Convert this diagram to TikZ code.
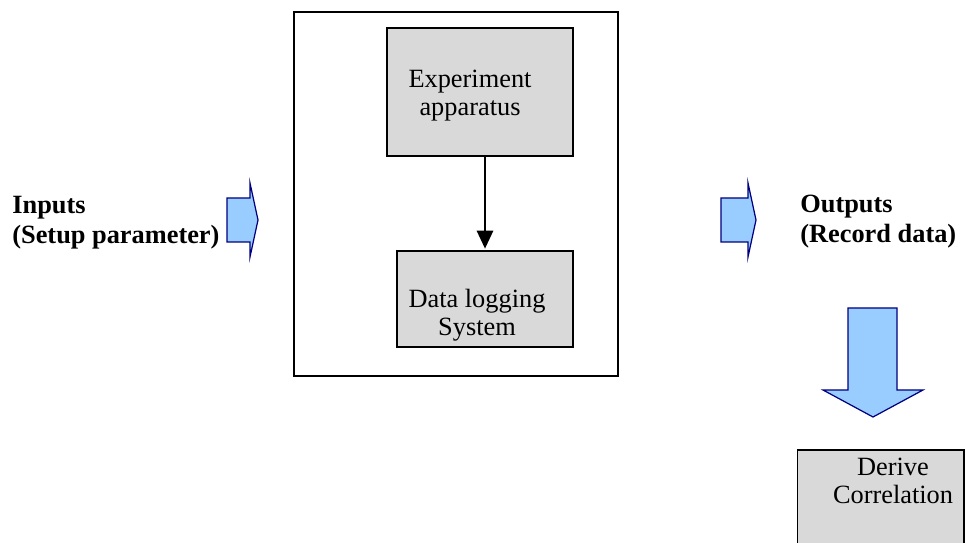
\documentclass[tikz,border=0pt]{standalone}
\usepackage{fontspec}
\setmainfont{Liberation Serif}
\usetikzlibrary{arrows.meta,positioning}
\definecolor{boxgrey}{RGB}{217,217,217}
\definecolor{arrowblue}{RGB}{153,204,255}
\definecolor{arrowline}{RGB}{0,0,128}
\tikzstyle{block} = [rectangle, draw, fill=boxgrey, line width=0.6pt, inner sep=0pt]
\tikzstyle{txt} = [inner sep=0pt, align=center, font=\fontsize{15}{16}\selectfont]
\tikzstyle{boldtxt} = [inner sep=0pt, align=left, font=\fontsize{15}{17}\selectfont\bfseries]
\tikzstyle{blockarrow} = [draw=arrowline, fill=arrowblue, line width=0.7pt, line join=miter]

\begin{document}
\begin{tikzpicture}[x=0.02cm, y=-0.02cm]
        \useasboundingbox (0,0) rectangle (966,543);
        \clip (0,0) rectangle (966,543);

        \node[draw, line width=0.8pt, minimum width=6.48cm, minimum height=7.28cm] (frame) at (456,194) {};
        \node[block, minimum width=3.72cm, minimum height=2.56cm] (exp) at (480,92) {};
        \node[block, minimum width=3.52cm, minimum height=1.92cm] (log) at (485,299) {};
        \node[block, minimum width=3.34cm, minimum height=2.4cm] (derive) at (880.5,510) {};

        \node[txt] (exptext) at (470,96) {Experiment\\apparatus};
        \node[txt] (logtext) at (477,315) {Data logging\\System};
        \node[txt] (derivetext) at (893,481) {Derive\\Correlation};
        \node[boldtxt, anchor=west] (inputs) at (12,223) {Inputs\\(Setup parameter)};
        \node[boldtxt, anchor=west] (outputs) at (800,222) {Outputs\\(Record data)};

        \draw[line width=1.6pt, -{Triangle[length=0.36cm, width=0.32cm]}, shorten >=1pt] (exp.south -| log) -- (log.north);

        \draw[blockarrow] (227,198) -- (250,198) -- (250,183) -- (258,220) -- (250,257) -- (250,242) -- (227,242) -- cycle;
        \draw[blockarrow] (721,198) -- (748,198) -- (748,183) -- (756,220) -- (748,257) -- (748,242) -- (721,242) -- cycle;
        \draw[blockarrow] (848,308) -- (897,308) -- (897,390) -- (923,390) -- (873,417) -- (823,390) -- (848,390) -- cycle;

    \end{tikzpicture}
\end{document}
